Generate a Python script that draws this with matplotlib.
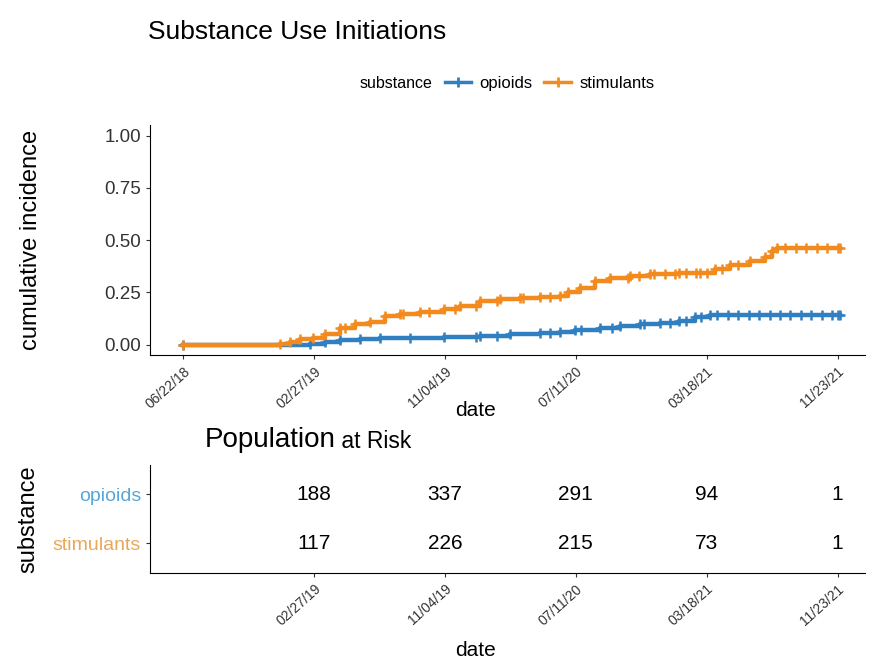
import numpy as np
import pandas as pd
import matplotlib
matplotlib.use("Agg")
import matplotlib.pyplot as plt
import matplotlib.dates as mdates
import matplotlib.transforms as mtransforms
from matplotlib.lines import Line2D

plt.rcParams['font.family'] = ['Liberation Sans', 'DejaVu Sans']

start_date = pd.Timestamp('2018-06-22')

# cumulative incidence step points (days since start, value)
opioid_days = [0, 242, 271, 300, 338, 376, 433, 498, 567, 624, 681, 719, 748, 796, 834, 872,
               910, 948, 977, 1006, 1254]
opioid_cuminc = [0, 0.005, 0.012, 0.02, 0.027, 0.032, 0.034, 0.037, 0.042, 0.05, 0.055, 0.062,
                 0.07, 0.08, 0.09, 0.10, 0.105, 0.115, 0.13, 0.14, 0.14]
stim_days = [0, 185, 204, 223, 248, 271, 300, 328, 357, 385, 414, 452, 498, 529, 567, 605, 643,
             681, 719, 735, 758, 786, 815, 853, 891, 948, 987, 1015, 1044, 1082, 1111, 1124,
             1135, 1254]
stim_cuminc = [0, 0.005, 0.015, 0.025, 0.033, 0.05, 0.08, 0.10, 0.11, 0.135, 0.148, 0.158,
               0.172, 0.187, 0.21, 0.22, 0.225, 0.23, 0.235, 0.25, 0.27, 0.306, 0.32, 0.33,
               0.34, 0.345, 0.345, 0.36, 0.38, 0.40, 0.42, 0.45, 0.465, 0.465]

# censoring marks
opioid_censor_days = [560, 600, 700, 760, 820, 880, 930, 960, 990, 1020, 1040, 1060, 1080,
                      1100, 1120, 1140, 1160, 1180, 1200, 1220, 1240, 1250]
stim_censor_days = [310, 420, 470, 520, 560, 600, 650, 700, 850, 870, 900, 920, 940, 960, 980,
                    1000, 1030, 1060, 1150, 1170, 1190, 1210, 1230, 1250]

# risk table
risk_dates = ['2019-02-27', '2019-11-04', '2020-07-11', '2021-03-18', '2021-11-23']
opioid_at_risk = [188, 337, 291, 94, 1]
stim_at_risk = [117, 226, 215, 73, 1]

top_ticks = ['2018-06-22', '2019-02-27', '2019-11-04', '2020-07-11', '2021-03-18', '2021-11-23']

blue = '#2f7fc1'
orange = '#f28a1e'


def to_dates(days):
    return start_date + pd.to_timedelta(days, unit='D')


def step_value(days, vals, t):
    idx = np.searchsorted(days, t, side='right') - 1
    return np.array(vals)[idx]


def style_dates(a, ticks):
    a.set_xticks(pd.to_datetime(ticks))
    a.xaxis.set_major_formatter(mdates.DateFormatter('%m/%d/%y'))
    shift = mtransforms.ScaledTranslation(12 / 100, 0, fig.dpi_scale_trans)
    for lab in a.get_xticklabels():
        lab.set_rotation(42)
        lab.set_rotation_mode('anchor')
        lab.set_ha('right')
        lab.set_va('top')
        lab.set_fontsize(10)
        lab.set_color('#333333')
        lab.set_transform(lab.get_transform() + shift)
    for s in ['top', 'right']:
        a.spines[s].set_visible(False)
    a.tick_params(length=3, color='#333333')


fig = plt.figure(figsize=(8.78, 6.70), dpi=100)
ax = fig.add_axes([0.171, 0.470, 0.814, 0.343])

for days, vals, cens, col in [(opioid_days, opioid_cuminc, opioid_censor_days, blue),
                              (stim_days, stim_cuminc, stim_censor_days, orange)]:
    ax.plot(to_dates(days), vals, drawstyle='steps-post', color=col, lw=3.2,
            marker='+', ms=7, mew=1.8)
    ax.plot(to_dates(cens), step_value(days, vals, cens), ls='none', color=col,
            marker='+', ms=7, mew=1.8)

xlim = (to_dates([-63])[0], to_dates([1302])[0])
ax.set_xlim(xlim)
ax.set_ylim(-0.05, 1.05)
ax.set_yticks([0, 0.25, 0.5, 0.75, 1.0])
ax.set_yticklabels(['0.00', '0.25', '0.50', '0.75', '1.00'], fontsize=13.5, color='#333333')
style_dates(ax, top_ticks)
ax.set_xlabel('date', fontsize=15)
ax.xaxis.set_label_coords(0.455, -0.2)
ax.set_ylabel('cumulative incidence', fontsize=17)
ax.yaxis.set_label_coords(-0.152, 0.5)

fig.text(0.168, 0.952, 'Substance Use Initiations', fontsize=19, va='center')
fig.text(0.410, 0.876, 'substance', fontsize=11.5, va='center')
handles = [Line2D([], [], color=blue, lw=2.5, marker='+', ms=7, mew=2),
           Line2D([], [], color=orange, lw=2.5, marker='+', ms=7, mew=2)]
fig.legend(handles, ['opioids', 'stimulants'], ncol=2, loc='center left',
           bbox_to_anchor=(0.497, 0.876), frameon=False, fontsize=12,
           handlelength=1.6, columnspacing=0.7, handletextpad=0.5, borderpad=0)

# risk table
axt = fig.add_axes([0.171, 0.145, 0.814, 0.161])
rd = pd.to_datetime(risk_dates)
for i in range(len(rd)):
    axt.text(rd[i], 2, str(opioid_at_risk[i]), ha='center', va='center', fontsize=15)
    axt.text(rd[i], 1, str(stim_at_risk[i]), ha='center', va='center', fontsize=15)
axt.set_xlim(xlim)
axt.set_ylim(0.4, 2.6)
axt.set_yticks([1, 2])
axt.set_yticklabels(['stimulants', 'opioids'], fontsize=14)
axt.get_yticklabels()[0].set_color('#e8a85a')
axt.get_yticklabels()[1].set_color('#5aa5da')
style_dates(axt, risk_dates)
axt.set_xlabel('date', fontsize=15)
axt.xaxis.set_label_coords(0.455, -0.63)
axt.set_ylabel('substance', fontsize=17)
axt.yaxis.set_label_coords(-0.155, 0.5)

t1 = fig.text(0.233, 0.333, 'Population', fontsize=20, va='baseline')
axt.annotate(' at Risk', xy=(1, 0), xycoords=t1, fontsize=16.5, va='bottom')

fig.savefig('out.png', dpi=100)
